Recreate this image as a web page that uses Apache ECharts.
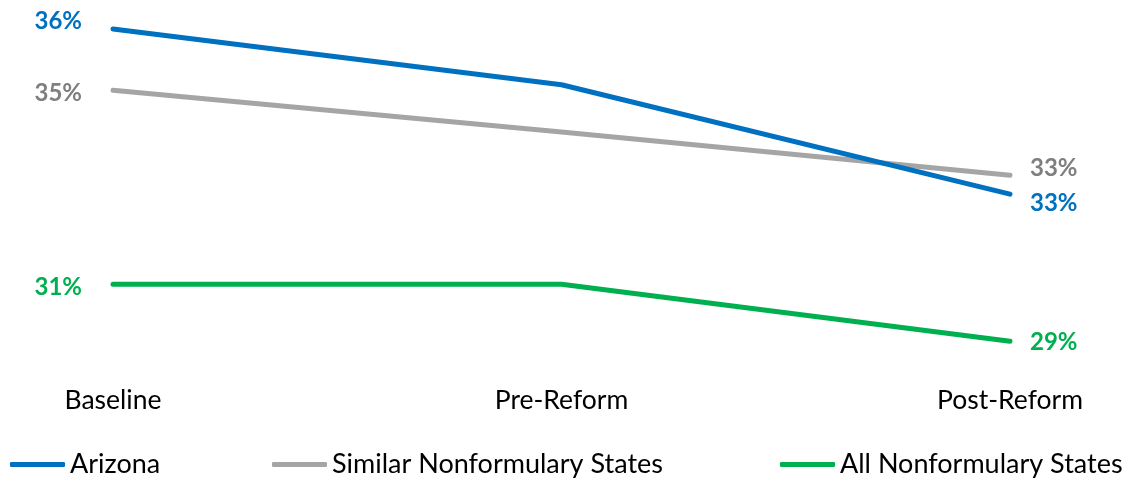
<!DOCTYPE html>
<html>
<head>
<meta charset="utf-8">
<style>html,body{margin:0;padding:0;background:#fff}#c{width:1130px;height:478px}</style>
<script src="https://cdn.jsdelivr.net/npm/echarts@6/dist/echarts.min.js"></script>
</head>
<body>
<div id="c"></div>
<script>
var categories = ['Baseline', 'Pre-Reform', 'Post-Reform'];
var seriesNames = ['Arizona', 'Similar Nonformulary States', 'All Nonformulary States'];
var arizona = [36.3, 35.06, 32.63];
var similar = [34.94, 34.01, 33.05];
var allNon = [30.63, 30.63, 29.36];

var lineColors = ['#0070C0', '#A5A5A5', '#00B050'];
var labelColors = ['#0070C0', '#7F7F7F', '#00B050'];
var leftOffsets = [-8, 3, 3];
var rightOffsets = [9, -7, 1];
var FONT = 'Lato';

function buildData(vals, i) {
  return vals.map(function (v, j) {
    var item = { value: v };
    if (j === 0) {
      item.label = { show: true, position: 'left', distance: 31, offset: [0, leftOffsets[i]] };
    } else if (j === vals.length - 1) {
      item.label = { show: true, position: 'right', distance: 20, offset: [0, rightOffsets[i]] };
    } else {
      item.label = { show: false };
    }
    return item;
  });
}

var allVals = [arizona, similar, allNon];
var series = allVals.map(function (vals, i) {
  return {
    name: seriesNames[i],
    type: 'line',
    data: buildData(vals, i),
    showSymbol: true,
    symbol: 'circle',
    symbolSize: 0,
    lineStyle: { color: lineColors[i], width: 5, cap: 'round' },
    itemStyle: { color: lineColors[i] },
    label: {
      color: labelColors[i], fontFamily: FONT, fontWeight: 'bold', fontSize: 24,
      formatter: function (p) { return Math.round(p.value) + '%'; }
    },
    emphasis: { disabled: true },
    z: 3 - i,
    animation: false
  };
});

var legendLefts = [5, 267, 775];
var legends = seriesNames.map(function (n, i) {
  return {
    data: [n], left: legendLefts[i], top: 446, itemWidth: 55, itemHeight: 5, icon: 'roundRect',
    textStyle: { fontFamily: FONT, fontSize: 27, color: '#000' }, selectedMode: false
  };
});

var chart = echarts.init(document.getElementById('c'), null, { renderer: 'canvas' });
chart.setOption({
  animation: false,
  grid: { left: 113, right: 120, top: 2, bottom: 89 },
  legend: legends,
  xAxis: {
    type: 'category', data: categories, boundaryGap: false,
    axisLine: { show: false }, axisTick: { show: false }, splitLine: { show: false },
    axisLabel: { fontFamily: FONT, fontSize: 26.5, color: '#000', margin: -2 }
  },
  yAxis: {
    type: 'value', min: 28.3, max: 36.9, show: false, splitLine: { show: false }
  },
  series: series
});
</script>
</body>
</html>
